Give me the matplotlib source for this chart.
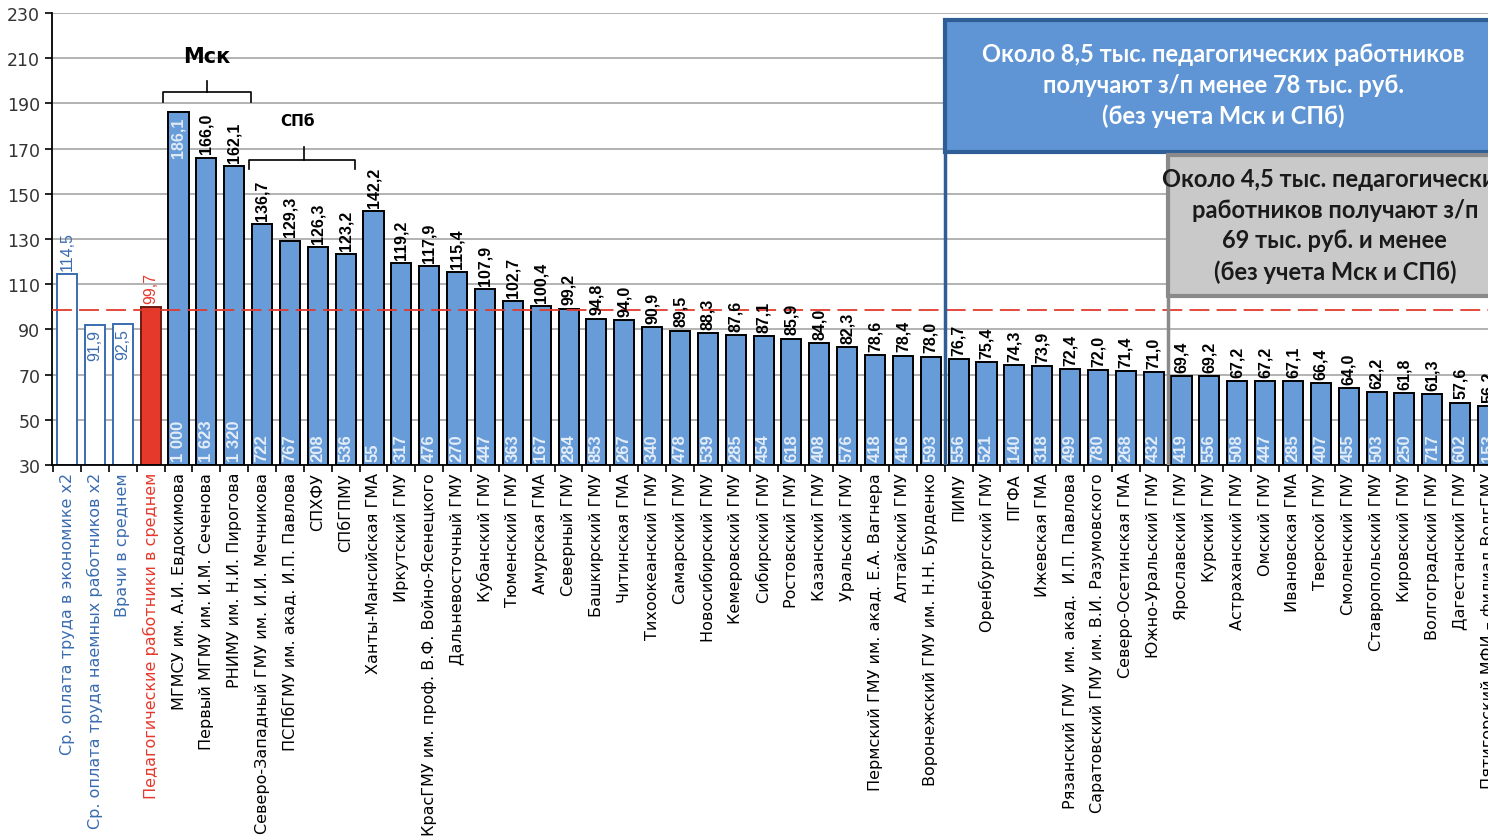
import matplotlib
matplotlib.use("Agg")
import matplotlib.pyplot as plt
from matplotlib import font_manager
from matplotlib.patches import Rectangle


def pick(*names):
    for n in names:
        try:
            font_manager.findfont(n, fallback_to_default=False)
            return n
        except Exception:
            pass
    return "DejaVu Sans"


NARROW = pick("Liberation Sans Narrow", "Liberation Sans")
BOX = pick("Lato", "Open Sans")

labels = [
    "Ср. оплата труда в экономике х2",
    "Ср. оплата труда наемных работников х2",
    "Врачи в среднем",
    "Педагогические работники в среднем",
    "МГМСУ им. А.И. Евдокимова",
    "Первый МГМУ им. И.М. Сеченова",
    "РНИМУ им. Н.И. Пирогова",
    "Северо-Западный ГМУ им. И.И. Мечникова",
    "ПСПбГМУ им. акад. И.П. Павлова",
    "СПХФУ",
    "СПбГПМУ",
    "Ханты-Мансийская ГМА",
    "Иркутский ГМУ",
    "КрасГМУ им. проф. В.Ф. Войно-Ясенецкого",
    "Дальневосточный ГМУ",
    "Кубанский ГМУ",
    "Тюменский ГМУ",
    "Амурская ГМА",
    "Северный ГМУ",
    "Башкирский ГМУ",
    "Читинская ГМА",
    "Тихоокеанский ГМУ",
    "Самарский ГМУ",
    "Новосибирский ГМУ",
    "Кемеровский ГМУ",
    "Сибирский ГМУ",
    "Ростовский ГМУ",
    "Казанский ГМУ",
    "Уральский ГМУ",
    "Пермский ГМУ им. акад. Е.А. Вагнера",
    "Алтайский ГМУ",
    "Воронежский ГМУ им. Н.Н. Бурденко",
    "ПИМУ",
    "Оренбургский ГМУ",
    "ПГФА",
    "Ижевская ГМА",
    "Рязанский ГМУ  им. акад.  И.П. Павлова",
    "Саратовский ГМУ им. В.И. Разумовского",
    "Северо-Осетинская ГМА",
    "Южно-Уральский ГМУ",
    "Ярославский ГМУ",
    "Курский ГМУ",
    "Астраханский ГМУ",
    "Омский ГМУ",
    "Ивановская ГМА",
    "Тверской ГМУ",
    "Смоленский ГМУ",
    "Ставропольский ГМУ",
    "Кировский ГМУ",
    "Волгоградский ГМУ",
    "Дагестанский ГМУ",
    "Пятигорский МФИ – филиал ВолгГМУ",
]

values = [114.5, 91.9, 92.5, 99.7, 186.1, 166.0, 162.1, 136.7, 129.3, 126.3,
          123.2, 142.2, 119.2, 117.9, 115.4, 107.9, 102.7, 100.4, 99.2, 94.8,
          94.0, 90.9, 89.5, 88.3, 87.6, 87.1, 85.9, 84.0, 82.3, 78.6,
          78.4, 78.0, 76.7, 75.4, 74.3, 73.9, 72.4, 72.0, 71.4, 71.0,
          69.4, 69.2, 67.2, 67.2, 67.1, 66.4, 64.0, 62.2, 61.8, 61.3,
          57.6, 56.2]

counts = ["", "", "", "", "1 000", "1 623", "1 320", "722", "767", "208",
          "536", "55", "317", "476", "270", "447", "363", "167", "284", "853",
          "267", "340", "478", "539", "285", "454", "618", "408", "576", "418",
          "416", "593", "556", "521", "140", "318", "499", "780", "268", "432",
          "419", "556", "508", "447", "285", "407", "455", "503", "250", "717",
          "602", "153"]

avg_line = 98.5

BLUE = "#679cd8"
DARKBLUE = "#2f5d95"
LABELBLUE = "#3a6cb0"
RED = "#e5392c"

fig = plt.figure(figsize=(14.88, 8.37), dpi=100)
ax = fig.add_axes([52 / 1488, 371 / 837, 1 - 52 / 1488, 452 / 837])

x = list(range(len(values)))
faces = ["white", "white", "white", RED] + [BLUE] * (len(values) - 4)
edges = [LABELBLUE] * 3 + ["#6b1a12"] + ["black"] * (len(values) - 4)
ax.bar(x, [v - 30 for v in values], bottom=30, width=0.72, color=faces,
       edgecolor=edges, linewidth=1.4, zorder=2)

ax.set_yticks(range(30, 231, 20))
ax.yaxis.grid(True, color="#a6a6a6", linewidth=1.2, zorder=0)
ax.set_axisbelow(True)
for s in ("top", "right"):
    ax.spines[s].set_visible(False)
ax.spines["left"].set_linewidth(1.3)
ax.spines["bottom"].set_linewidth(1.3)
ax.tick_params(axis="y", length=5, width=1.2, labelsize=12.5, labelcolor="#333333")

ax.set_xticks(x)
ax.set_xticklabels(labels, rotation=90, fontsize=11.5, va="top")
ax.set_xticks([i + 0.5 for i in range(-1, len(values))], minor=True)
ax.tick_params(axis="x", which="major", length=0, pad=5)
ax.tick_params(axis="x", which="minor", length=5, width=1.2)
for i, t in enumerate(ax.get_xticklabels()):
    if i < 3:
        t.set_color(LABELBLUE)
    elif i == 3:
        t.set_color(RED)

ax.set_xlim(-0.54, 51.0)
ax.set_ylim(30, 230)

# value labels
for i, v in enumerate(values):
    s = f"{v:.1f}".replace(".", ",")
    if i in (1, 2):
        ax.annotate(s, (i, v), xytext=(0, -3), textcoords="offset points",
                    rotation=90, ha="center", va="top", fontsize=11.5,
                    color=LABELBLUE, family=NARROW, zorder=4)
    elif i == 4:
        ax.annotate(s, (i, v), xytext=(0, -3), textcoords="offset points",
                    rotation=90, ha="center", va="top", fontsize=11.5,
                    color="#dfe9f5", fontweight="bold", family=NARROW, zorder=4)
    else:
        c = LABELBLUE if i == 0 else (RED if i == 3 else "black")
        ax.annotate(s, (i, v), xytext=(0, 3), textcoords="offset points",
                    rotation=90, ha="center", va="bottom", fontsize=11.5,
                    color=c, fontweight="bold" if i > 3 else "normal",
                    family=NARROW, zorder=4)
    if counts[i]:
        ax.annotate(counts[i], (i, 30), xytext=(0, 3), textcoords="offset points",
                    rotation=90, ha="center", va="bottom", fontsize=12,
                    color="#e4edf8", fontweight="bold", family=NARROW, zorder=4)

ax.axhline(avg_line, color="#e03a2e", linestyle=(0, (11, 4)), linewidth=1.3, zorder=3)

# brackets
def bracket(x0, x1, xc, yend, yh, ytop):
    ax.plot([x0, x0, x1, x1], [yend, yh, yh, yend], color="black", lw=1.2, zorder=4)
    ax.plot([xc, xc], [yh, ytop], color="black", lw=1.2, zorder=4)


bracket(3.45, 6.6, 5.03, 190.6, 195.2, 200)
bracket(6.52, 10.35, 8.49, 161, 165.1, 170.6)
ax.text(5.03, 211, "Мск", ha="center", va="center", fontsize=15, fontweight="bold")
ax.text(8.26, 182.3, "СПб", ha="center", va="center", fontsize=11, fontweight="bold")

# info boxes
ax.add_patch(Rectangle((31.5, 168.5), 25, 58.5, facecolor="#5f95d4",
                       edgecolor=DARKBLUE, linewidth=3, zorder=5))
ax.plot([31.5, 31.5], [30, 168.5], color=DARKBLUE, lw=2.5, zorder=5)
ax.text(41.5, 198.3,
        "Около 8,5 тыс. педагогических работников\nполучают з/п менее 78 тыс. руб.\n(без учета Мск и СПб)",
        ha="center", va="center", color="white", fontsize=17, fontweight="bold",
        family=BOX, linespacing=1.4, zorder=6)

ax.add_patch(Rectangle((39.5, 105), 25, 62, facecolor="#c9c9c9",
                       edgecolor="#8a8a8a", linewidth=3, zorder=5))
ax.plot([39.5, 39.5], [30, 105], color="#8a8a8a", lw=2.5, zorder=5)
ax.text(45.5, 136.3,
        "Около 4,5 тыс. педагогических\nработников получают з/п\n69 тыс. руб. и менее\n(без учета Мск и СПб)",
        ha="center", va="center", color="#1a1a1a", fontsize=17, fontweight="bold",
        family=BOX, linespacing=1.4, zorder=6, clip_on=True)

fig.savefig("out.png", dpi=100)
